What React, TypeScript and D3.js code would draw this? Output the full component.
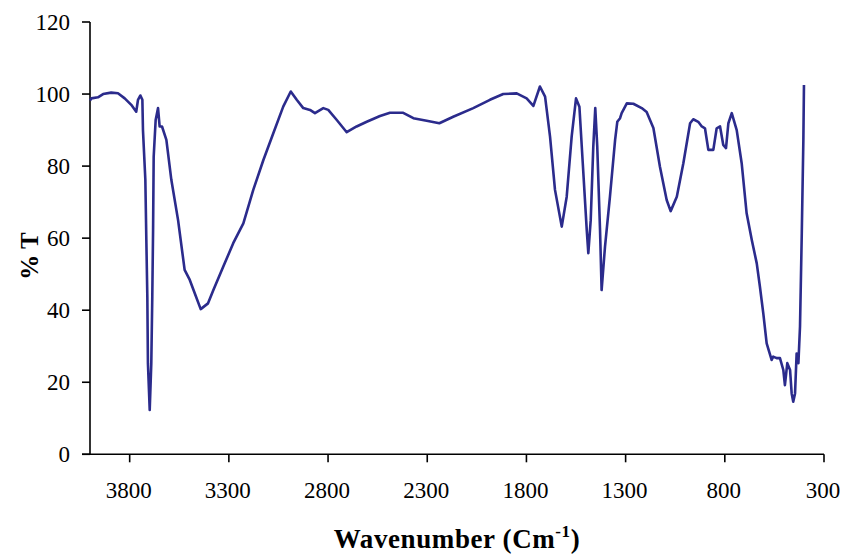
import React from "react";
import * as d3 from "d3";

// FTIR spectrum
const wavenumbers: number[] = [
  4000, 3993, 3960, 3934, 3893, 3859, 3825, 3792, 3767, 3758, 3746, 3736, 3733, 3721, 3716, 3711, 3708, 3699,
  3691, 3686, 3682, 3679, 3669, 3657, 3649, 3637, 3615, 3590, 3556, 3523, 3497, 3472, 3442, 3405, 3378, 3328,
  3278, 3227, 3177, 3126, 3076, 3026, 2988, 2958, 2925, 2891, 2866, 2824, 2799, 2756, 2706, 2656, 2605, 2538,
  2488, 2421, 2370, 2303, 2239, 2169, 2068, 1984, 1917, 1849, 1799, 1765, 1732, 1706, 1681, 1656, 1622, 1597,
  1572, 1550, 1533, 1516, 1496, 1488, 1476, 1463, 1453, 1443, 1429, 1421, 1404, 1379, 1353, 1342, 1328, 1320,
  1294, 1261, 1219, 1194, 1160, 1127, 1093, 1073, 1042, 1009, 975, 959, 934, 916, 900, 883, 858, 841, 824, 808,
  794, 782, 765, 740, 715, 690, 664, 639, 623, 606, 589, 564, 556, 539, 522, 505, 497, 485, 471, 463, 455, 446,
  438, 429, 421, 412, 404, 401,
];
const transmittance: number[] = [
  98.2, 98.8, 99.1, 100.0, 100.4, 100.2, 98.8, 97.0, 95.1, 98.4, 99.6, 98.4, 90.0, 76.2, 59.5, 43.8, 25.3, 12.3,
  25.3, 43.8, 62.3, 82.6, 92.8, 96.1, 91.0, 91.0, 87.3, 76.2, 65.0, 51.2, 48.4, 44.7, 40.3, 41.9, 45.6, 52.1,
  58.6, 64.1, 73.4, 81.7, 89.1, 96.5, 100.7, 98.4, 96.1, 95.6, 94.7, 96.1, 95.6, 92.8, 89.4, 91.0, 92.3, 93.9,
  94.8, 94.8, 93.3, 92.6, 91.9, 93.7, 96.1, 98.4, 100.0, 100.2, 98.8, 96.7, 102.1, 99.3, 88.2, 73.4, 63.2, 71.5,
  88.2, 98.8, 96.5, 80.8, 62.3, 55.8, 65.0, 85.4, 96.1, 85.4, 62.3, 45.6, 57.6, 71.5, 87.3, 92.3, 93.3, 94.7,
  97.4, 97.3, 96.1, 95.0, 90.6, 79.8, 70.6, 67.5, 71.5, 80.8, 91.9, 93.0, 92.3, 91.0, 90.5, 84.5, 84.5, 90.5, 91.0, 85.9,
  85.0, 91.9, 94.7, 90.0, 80.8, 66.9, 59.5, 53.0, 46.5, 39.1, 30.8, 26.2, 27.1, 26.7, 26.7, 23.4, 19.2, 25.3, 23.4, 16.9, 14.6, 16.9,
  28.0, 25.3, 35.4, 61.4, 87.3, 102.5,
];
const xTicks: number[] = [3800, 3300, 2800, 2300, 1800, 1300, 800, 300];
const yTicks: number[] = [0, 20, 40, 60, 80, 100, 120];

export default function App() {
  const W = 844;
  const H = 554;
  const left = 90;
  const right = 824;
  const top = 22;
  const bottom = 454.3;

  const x = d3.scaleLinear().domain([4000, 300]).range([left, right]);
  const y = d3.scaleLinear().domain([0, 120]).range([bottom, top]);

  const pts = wavenumbers.map((w, i) => [w, transmittance[i]] as [number, number]);
  const line = d3
    .line<[number, number]>()
    .x((d) => x(d[0]))
    .y((d) => y(d[1]))
    .curve(d3.curveLinear);

  const font = "Liberation Serif, Times New Roman, serif";

  return (
    <svg
      width={W}
      height={H}
      viewBox={`0 0 ${W} ${H}`}
      style={{ position: "absolute", left: 0, top: 0, background: "#fff" }}
    >
      <rect x={0} y={0} width={W} height={H} fill="#fff" />
      {/* y axis */}
      <line x1={left} x2={left} y1={top} y2={bottom} stroke="#000" strokeWidth={1.6} />
      {yTicks.map((t) => (
        <g key={"y" + t}>
          <line x1={left - 8} x2={left} y1={y(t)} y2={y(t)} stroke="#000" strokeWidth={1.6} />
          <text
            x={70}
            y={y(t) + 8}
            textAnchor="end"
            fontFamily={font}
            fontSize={23}
            fill="#000"
          >
            {t}
          </text>
        </g>
      ))}
      {/* x axis */}
      <line x1={left - 8} x2={right} y1={bottom} y2={bottom} stroke="#000" strokeWidth={1.6} />
      {xTicks.map((t) => (
        <g key={"x" + t}>
          <line x1={x(t)} x2={x(t)} y1={bottom} y2={bottom + 8} stroke="#000" strokeWidth={1.6} />
          <text
            x={x(t) - 1}
            y={498}
            textAnchor="middle"
            fontFamily={font}
            fontSize={23}
            fill="#000"
          >
            {t}
          </text>
        </g>
      ))}
      {/* spectrum */}
      <path d={line(pts) || ""} fill="none" stroke="#2b2b8c" strokeWidth={2.6} strokeLinejoin="round" />
      {/* axis titles */}
      <text
        x={457}
        y={548}
        textAnchor="middle"
        fontFamily={font}
        fontWeight="bold"
        fontSize={27}
        letterSpacing={0.6}
        fill="#000"
      >
        Wavenumber (Cm
        <tspan fontSize={17} dy={-11}>-1</tspan>
        <tspan dy={11}>)</tspan>
      </text>
      <text
        transform="translate(38,256) rotate(-90)"
        textAnchor="middle"
        fontFamily={font}
        fontWeight="bold"
        fontSize={25}
        fill="#000"
      >
        % T
      </text>
    </svg>
  );
}
